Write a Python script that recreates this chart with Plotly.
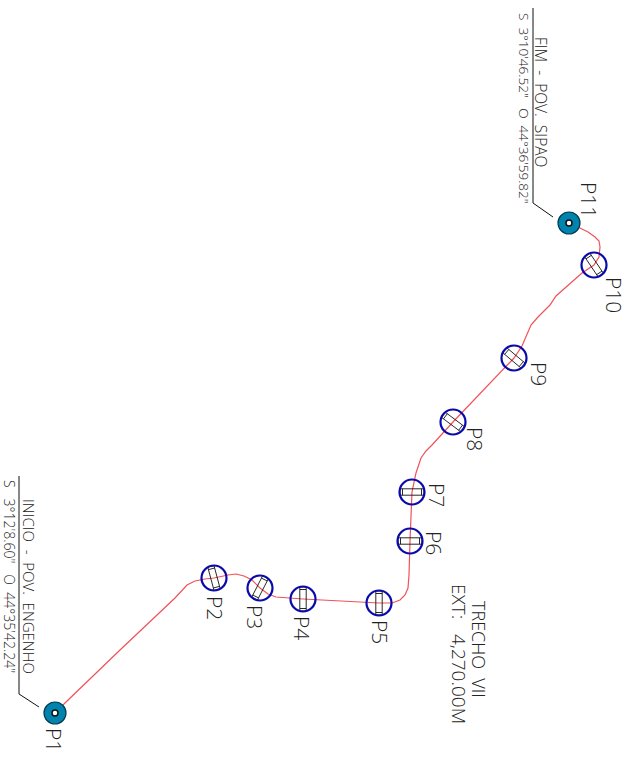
import math
import plotly.graph_objects as go

# Station positions on the sheet
node_names = ["P1","P2","P3","P4","P5","P6","P7","P8","P9","P10","P11"]
node_x = [55,214,260,303,379,410,412,453,514,594,569]
node_y = [713,578,588,599,603,541,492,422,358,265,223]
culvert_angle = [None,75,117,90,90,0,0,37,40,56,None]

# Route centreline
route_x = [55,65,120,175,187,195,205,214,228,236,244,252,260,268,276,288,303,379,392,400,405,408,409,410,412,416,421,426,432,453,514,522,527,531,538,550,556,566,582,594,599,600,599,595,588,580,569]
route_y = [713,703,650,598,585,581,579,578,575,574,576,580,588,594,597,598,599,603,603,600,595,588,575,541,492,473,458,451,445,422,358,346,335,325,317,305,296,287,273,265,257,247,241,237,232,228,223]

# Leader lines
leader1_x = [533,533,553]
leader1_y = [8,203,217]
leader2_x = [19,19,39]
leader2_y = [476,694,707]

# Labels: text, x, y, size
labels = [
    ("P1",54,740,21),("P2",215,608,21),("P3",255,617,21),("P4",302,628,21),("P5",380,632,21),
    ("P6",434,543,21),("P7",437,495,21),("P8",475,439,21),("P9",539,374,21),("P10",614,295,21),("P11",589,200,21),
    ("FIM  -  POV.  SIPAO",541,102,15.5),
    ("S  3°10'46.52\"   O  44°36'59.82\"",524,108,13.5),
    ("INICIO  -  POV.  ENGENHO",29,586,15),
    ("S   3°12'8.60\"   O  44°35'42.24\"",10,576,14),
    ("TRECHO  VII",479,649,18),
    ("EXT:   4,270.00M",459,654,19),
]

RED = "#f0525a"
BLUE = "#0a0aaa"
TEAL = "#0083ad"
BLACK = "#111111"

fig = go.Figure()
fig.add_trace(go.Scatter(x=route_x, y=route_y, mode="lines", line=dict(color=RED, width=1.2), hoverinfo="skip"))
for lx, ly in ((leader1_x, leader1_y), (leader2_x, leader2_y)):
    fig.add_trace(go.Scatter(x=lx, y=ly, mode="lines", line=dict(color=BLACK, width=1), hoverinfo="skip"))

# Culvert symbols, oriented from each station's angle
sx, sy = [], []
for cx, cy, a in zip(node_x, node_y, culvert_angle):
    if a is None:
        continue
    t = math.radians(a)
    ux, uy = math.cos(t), math.sin(t)
    vx, vy = -uy, ux
    hl, hw = 12, 3.2
    for p, q in [((-hl,-hw),(hl,-hw)),((hl,-hw),(hl,hw)),((hl,hw),(-hl,hw)),((-hl,hw),(-hl,-hw)),
                 ((-hl+2.5,-hw),(-hl+2.5,hw)),((hl-2.5,-hw),(hl-2.5,hw))]:
        for a1, b1 in (p, q):
            sx.append(cx + a1*ux + b1*vx)
            sy.append(cy + a1*uy + b1*vy)
        sx.append(None); sy.append(None)
fig.add_trace(go.Scatter(x=sx, y=sy, mode="lines", line=dict(color=BLACK, width=0.9), hoverinfo="skip"))

# Blue rings
ring = [i for i, a in enumerate(culvert_angle) if a is not None]
fig.add_trace(go.Scatter(x=[node_x[i] for i in ring], y=[node_y[i] for i in ring], mode="markers",
    marker=dict(size=25, color="rgba(0,0,0,0)", line=dict(color=BLUE, width=2.2)), hoverinfo="skip"))

# End points
end = [i for i, a in enumerate(culvert_angle) if a is None]
ex = [node_x[i] for i in end]
ey = [node_y[i] for i in end]
fig.add_trace(go.Scatter(x=ex, y=ey, mode="markers",
    marker=dict(size=22, color=TEAL, line=dict(color="#053a50", width=1.2)), hoverinfo="skip"))
fig.add_trace(go.Scatter(x=ex, y=ey, mode="markers",
    marker=dict(size=6, color="white", line=dict(color=BLACK, width=1.5)), hoverinfo="skip"))

for text, x, y, size in labels:
    fig.add_annotation(x=x, y=y, text=text.replace(" ", "\u00a0"), textangle=90, showarrow=False,
        font=dict(family="Open Sans", size=size, color="#222222", weight=300), xanchor="center", yanchor="middle")

fig.update_layout(width=629, height=757, margin=dict(l=0, r=0, t=0, b=0),
    paper_bgcolor="white", plot_bgcolor="white", showlegend=False,
    xaxis=dict(range=[0,629], visible=False, fixedrange=True),
    yaxis=dict(range=[757,0], visible=False, fixedrange=True))
fig.write_html("out.html", config=dict(displayModeBar=False), default_width="629px", default_height="757px",
    post_script="document.body.style.margin='0';document.documentElement.style.overflow='hidden';")
